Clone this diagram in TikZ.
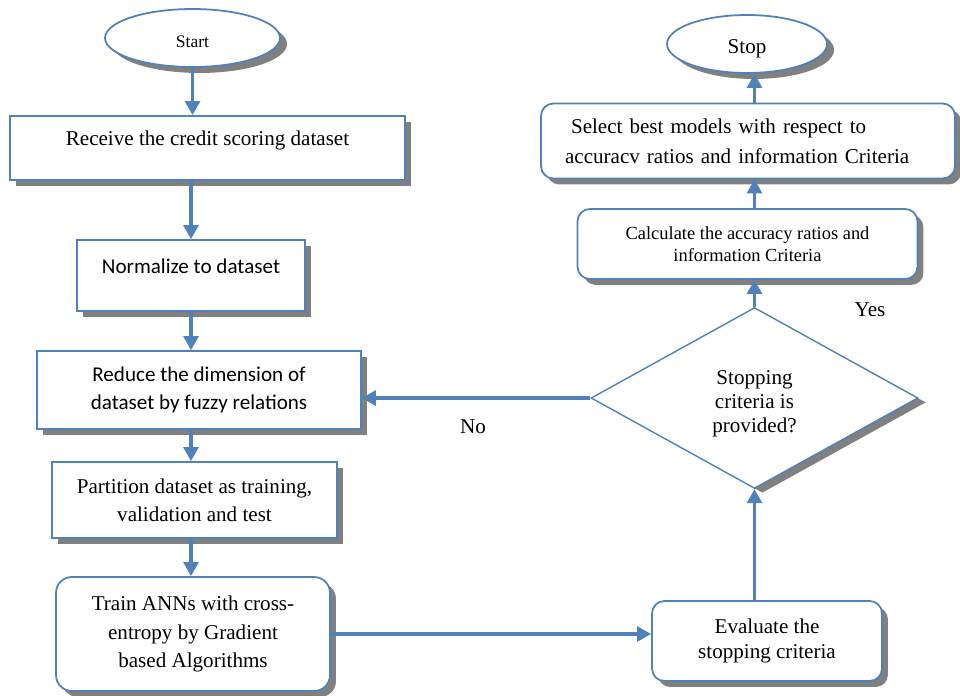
\documentclass[tikz,border=0pt]{standalone}
\usepackage{fontspec}
\setmainfont{Liberation Serif}
\newfontfamily\timesfont{Liberation Serif}
\newfontfamily\calibri{Carlito}
\usetikzlibrary{shapes.geometric,shadows,arrows.meta}
\definecolor{flowblue}{HTML}{4F81BD}
\newcommand{\shiftText}[2]{\raisebox{#1}[\height][\depth]{#2}}

\begin{document}
\begin{tikzpicture}[
    x=0.02cm, y=-0.02cm,
    boxshadow/.style={drop shadow={shadow xshift=3.4pt, shadow yshift=-3.4pt, fill=black!50, opacity=1}},
    flowbox/.style={rectangle, draw=flowblue, line width=1pt, fill=white, align=center,
        inner sep=2pt, font=\timesfont\fontsize{12}{16}\selectfont, boxshadow},
    roundbox/.style={flowbox, rounded corners=7pt},
    termbox/.style={ellipse, draw=flowblue, line width=1pt, fill=white, inner sep=0pt,
        minimum height=1.16cm, drop shadow={shadow xshift=4pt, shadow yshift=-3.4pt, fill=black!50, opacity=1}},
    decbox/.style={diamond, draw=flowblue, line width=0.8pt, fill=white, align=center, inner sep=0pt,
        font=\timesfont\fontsize{12}{13.6}\selectfont,
        drop shadow={shadow xshift=4.5pt, shadow yshift=-2.5pt, fill=black!50, opacity=1}},
    flowarr/.style={-{Triangle[width=8.5pt,length=8pt]}, line width=1.8pt, flowblue},
    lbl/.style={font=\timesfont\fontsize{12}{14}\selectfont}
]
    \useasboundingbox (0,0) rectangle (960,696);

    % --- LEFT COLUMN ---
    \node[termbox, minimum width=3.5cm, font=\timesfont\fontsize{10}{12}\selectfont] (start) at (192.5,38)
        {\shiftText{-2.3pt}{Start}};

    \node[flowbox, minimum width=7.9cm, minimum height=1.28cm] (receive) at (207.5,148)
        {\shiftText{4.5pt}{Receive the credit scoring dataset}};

    \node[flowbox, minimum width=4.56cm, minimum height=1.42cm, font=\calibri\fontsize{12}{16}\selectfont]
        (normalize) at (191,275.5) {\shiftText{5.1pt}{Normalize to dataset}};

    \node[flowbox, minimum width=6.48cm, minimum height=1.56cm, font=\calibri\fontsize{12}{16}\selectfont]
        (reduce) at (199,390) {Reduce the dimension of\\dataset by fuzzy relations};

    \node[flowbox, minimum width=5.7cm, minimum height=1.52cm] (partition) at (194.5,500)
        {Partition dataset as training,\\validation and test};

    \node[roundbox, rounded corners=9pt, minimum width=5.48cm, minimum height=2.28cm,
        font=\timesfont\fontsize{12}{16.4}\selectfont] (train) at (193,634)
        {Train ANNs with cross-\\entropy by Gradient\\based Algorithms};

    % --- RIGHT COLUMN ---
    \node[roundbox, minimum width=4.6cm, minimum height=1.6cm, font=\timesfont\fontsize{12}{14.2}\selectfont]
        (evaluate) at (767,641) {Evaluate the\\stopping criteria};

    \node[decbox, minimum width=6.54cm, minimum height=3.62cm] (stopcrit) at (754.5,398)
        {\shiftText{-3.4pt}{\parbox{2.2cm}{\centering Stopping\\criteria is\\provided?}}};

    \node[roundbox, minimum width=6.8cm, minimum height=1.4cm, font=\timesfont\fontsize{10.5}{12.5}\selectfont]
        (calc) at (747.5,244) {Calculate the accuracy ratios and\\information Criteria};

    \node[roundbox, align=left, text width=7.32cm, inner xsep=0.48cm, minimum height=1.5cm,
        font=\timesfont\fontsize{12}{17}\selectfont] (select) at (748,141)
        {\hspace*{0.12cm}Select best models with respect to\\accuracv ratios and information Criteria};

    \node[termbox, minimum width=3.2cm, font=\timesfont\fontsize{12}{14}\selectfont] (stop) at (747,44)
        {\shiftText{-2.8pt}{Stop}};

    % --- LABELS ---
    \node[lbl] (yes) at (870,310) {Yes};
    \node[lbl] (no) at (473,427) {No};

    % --- ARROWS ---
    \draw[flowarr] (start) -- (start |- receive.north);
    \draw[flowarr] (receive.south -| normalize) -- (normalize);
    \draw[flowarr] (normalize) -- (normalize |- reduce.north);
    \draw[flowarr] (normalize |- reduce.south) -- (normalize |- partition.north);
    \draw[flowarr] (normalize |- partition.south) -- (normalize |- train.north);
    \draw[flowarr] (train.east) -- (train.east -| evaluate.west);

    \draw[flowarr] (evaluate.north -| stopcrit) -- (stopcrit.south);
    \draw[flowarr] (stopcrit.north) -- (stopcrit.north |- calc.south);
    \draw[flowarr] (stopcrit |- calc.north) -- (stopcrit |- select.south);
    \draw[flowarr] (stopcrit |- select.north) -- (stopcrit |- stop.south);

    \draw[flowarr] (stopcrit.west) -- (stopcrit.west -| reduce.east);

\end{tikzpicture}
\end{document}
